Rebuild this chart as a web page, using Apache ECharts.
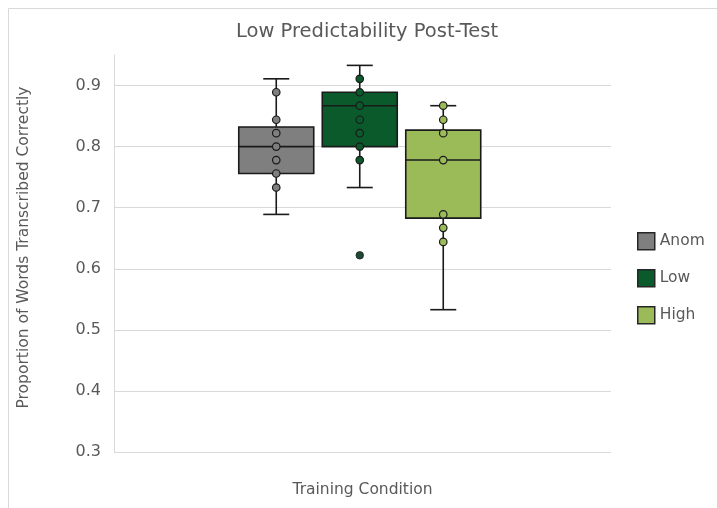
<!DOCTYPE html>
<html>
<head>
<meta charset="utf-8">
<script src="https://cdn.jsdelivr.net/npm/echarts@6/dist/echarts.min.js"></script>
<style>html,body{margin:0;padding:0;background:#fff}#main{width:717px;height:508px}</style>
</head>
<body>
<div id="main"></div>
<script>
// ---- data ----
var groups = ['Anom', 'Low', 'High'];
// [min whisker, Q1, median, Q3, max whisker]
var anomBox = [0.689, 0.756, 0.800, 0.832, 0.911];
var lowBox  = [0.733, 0.800, 0.867, 0.889, 0.933];
var highBox = [0.533, 0.683, 0.778, 0.827, 0.867];
// inner points
var anomPoints = [0.889, 0.844, 0.822, 0.800, 0.778, 0.756, 0.733];
var lowPoints  = [0.911, 0.889, 0.867, 0.844, 0.822, 0.800, 0.778];
var highPoints = [0.867, 0.844, 0.822, 0.778, 0.689, 0.667, 0.644];
// outliers
var lowOutliers = [0.622];
var yTicks = ['0.3', '0.4', '0.5', '0.6', '0.7', '0.8', '0.9'];

var colors = ['#7f7f7f', '#0b5a2b', '#9bbb59'];
var boxes = [anomBox, lowBox, highBox];
var points = [anomPoints, lowPoints, highPoints];
var textColor = '#595959';
var font = 'DejaVu Sans';

function renderBox(params, api) {
  var x = api.value(0);
  var band = api.size([1, 0])[0];
  var half = band * 0.449;
  var cap = 13;
  var pMin = api.coord([x, api.value(1)]);
  var pQ1 = api.coord([x, api.value(2)]);
  var pMed = api.coord([x, api.value(3)]);
  var pQ3 = api.coord([x, api.value(4)]);
  var pMax = api.coord([x, api.value(5)]);
  var cx = pMed[0];
  var ls = {stroke: '#1a1a1a', lineWidth: 1.6};
  return {
    type: 'group',
    children: [
      {type: 'line', shape: {x1: cx, y1: pMax[1], x2: cx, y2: pQ3[1]}, style: ls},
      {type: 'line', shape: {x1: cx, y1: pQ1[1], x2: cx, y2: pMin[1]}, style: ls},
      {type: 'line', shape: {x1: cx - cap, y1: pMax[1], x2: cx + cap, y2: pMax[1]}, style: ls},
      {type: 'line', shape: {x1: cx - cap, y1: pMin[1], x2: cx + cap, y2: pMin[1]}, style: ls},
      {type: 'rect', shape: {x: cx - half, y: pQ3[1], width: 2 * half, height: pQ1[1] - pQ3[1]},
        style: {fill: api.visual('color'), stroke: '#1a1a1a', lineWidth: 1.6}},
      {type: 'line', shape: {x1: cx - half, y1: pMed[1], x2: cx + half, y2: pMed[1]}, style: ls}
    ]
  };
}

var series = [];
groups.forEach(function (g, i) {
  series.push({
    name: g,
    type: 'custom',
    xAxisIndex: 1, yAxisIndex: 1,
    renderItem: renderBox,
    itemStyle: {color: colors[i]},
    encode: {x: 0, y: [1, 2, 3, 4, 5]},
    data: [[i].concat(boxes[i])],
    z: 2
  });
});
groups.forEach(function (g, i) {
  series.push({
    name: g + ' points',
    type: 'scatter',
    xAxisIndex: 1, yAxisIndex: 1,
    symbolSize: 7.5,
    itemStyle: {color: colors[i], borderColor: '#1a1a1a', borderWidth: 1.2, opacity: 1},
    data: points[i].map(function (v) { return [i, v]; }),
    z: 5
  });
});
series.push({
  name: 'Low outliers',
  type: 'scatter',
  xAxisIndex: 1, yAxisIndex: 1,
  symbolSize: 7.5,
  itemStyle: {color: '#1e4a35', borderColor: '#1a1a1a', borderWidth: 0.8, opacity: 1},
  data: lowOutliers.map(function (v) { return [1, v]; }),
  z: 5
});

var chart = echarts.init(document.getElementById('main'), null, {renderer: 'canvas'});
chart.setOption({
  backgroundColor: '#fff',
  animation: false,
  textStyle: {fontFamily: font},
  graphic: [{
    type: 'rect', silent: true, z: -10,
    shape: {x: 8.5, y: 8.5, width: 760, height: 560},
    style: {fill: null, stroke: '#d9d9d9', lineWidth: 1}
  }],
  title: {
    text: 'Low Predictability Post-Test',
    left: 231, top: 17,
    textStyle: {fontFamily: font, fontSize: 19.5, fontWeight: 'normal', color: textColor}
  },
  legend: {
    orient: 'vertical',
    left: 632, top: 227,
    itemWidth: 17, itemHeight: 17, itemGap: 18.5,
    textStyle: {fontFamily: font, fontSize: 15.5, color: textColor},
    data: groups.map(function (g, i) {
      return {name: g, icon: 'rect',
        itemStyle: {color: colors[i], borderColor: '#262626', borderWidth: 1.5}};
    })
  },
  grid: [
    {left: 114, right: 106, top: 55, bottom: 56},
    {left: 234.5, width: 250.5, top: 55, bottom: 56}
  ],
  xAxis: [
    {type: 'category', gridIndex: 0, data: [''],
      name: 'Training Condition', nameLocation: 'middle', nameGap: 30,
      nameTextStyle: {fontFamily: font, fontSize: 15.5, color: textColor},
      axisLine: {show: false}, axisTick: {show: false}, axisLabel: {show: false}, splitLine: {show: false}},
    {type: 'category', gridIndex: 1, data: groups,
      axisLine: {show: false}, axisTick: {show: false}, axisLabel: {show: false}, splitLine: {show: false}}
  ],
  yAxis: [
    {type: 'value', gridIndex: 0, min: 0.3, max: 0.95, interval: 0.1,
      name: 'Proportion of Words Transcribed Correctly', nameLocation: 'middle', nameGap: 82,
      nameTextStyle: {fontFamily: font, fontSize: 15.5, color: textColor, padding: [0, 0, 0, 12]},
      axisLine: {show: true, lineStyle: {color: '#d9d9d9', width: 1}},
      axisTick: {show: false},
      axisLabel: {fontFamily: font, fontSize: 16, color: textColor, margin: 13, showMaxLabel: false,
        formatter: function (v) {
          var s = v.toFixed(1);
          return yTicks.indexOf(s) >= 0 ? s : '';
        }},
      splitLine: {show: true, showMaxLine: false, lineStyle: {color: '#d9d9d9', width: 1}}},
    {type: 'value', gridIndex: 1, min: 0.3, max: 0.95,
      axisLine: {show: false}, axisTick: {show: false}, axisLabel: {show: false}, splitLine: {show: false}}
  ],
  series: series
});
</script>
</body>
</html>
